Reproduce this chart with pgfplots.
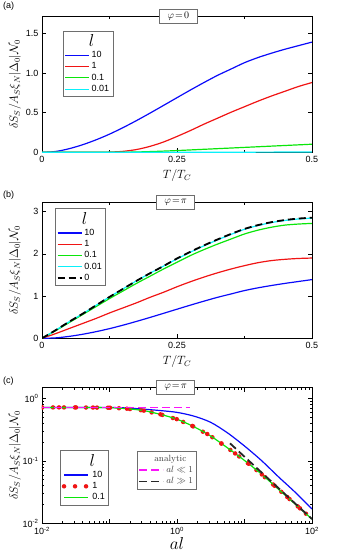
\documentclass[border=0pt]{standalone}
\usepackage{pgfplots}
\pgfplotsset{compat=1.18}
\usepackage{fontspec}
\setsansfont{Liberation Sans}
\usepackage{amsmath,amssymb}
\definecolor{cblue}{RGB}{10,10,250}
\definecolor{cred}{RGB}{240,20,20}
\definecolor{cgreen}{RGB}{10,230,10}
\definecolor{ccyan}{RGB}{10,240,250}
\definecolor{cmag}{RGB}{250,20,250}
\definecolor{boxgray}{RGB}{110,110,110}

\tikzset{
  tbox/.style={draw=boxgray, line width=0.8pt, fill=white, inner sep=1.5pt,
    minimum width=38pt, minimum height=14pt, font=\fontsize{10}{11}\selectfont},
  plabel/.style={anchor=north west, font=\sffamily\fontsize{9}{10}\selectfont, inner sep=0pt},
}
\pgfplotsset{
  panel/.style={
    scale only axis, width=270pt, height=135.6pt,
    anchor=north west, clip mode=individual,
    tick align=inside,
    major tick length=4pt, minor tick length=2pt,
    tick style={black, line width=0.6pt},
    axis line style={line width=0.8pt},
    tick label style={font=\sffamily\fontsize{9}{10}\selectfont},
    /pgf/number format/assume math mode=true,
    label style={font=\fontsize{12}{13}\selectfont},
    ylabel style={font=\fontsize{12}{13}\selectfont,
      at={(axis description cs:-0.1,0.5)}, anchor=center},
    legend style={draw=boxgray, fill=white,
      font=\sffamily\fontsize{9}{10}\selectfont,
      inner sep=1.5pt, row sep=-0.5pt, cells={anchor=west}},
    legend cell align=left,
    legend image code/.code={\draw[##1] (0pt,0pt) -- (24pt,0pt);},
  },
}

\begin{document}
\begin{tikzpicture}
\path[use as bounding box] (0,0) rectangle (338pt,-558pt);

% ---------------- (a) ----------------
\node[plabel] at (3pt,-2pt) {(a)};
\begin{axis}[panel, at={(42pt,-16.7pt)},
  xmin=0, xmax=0.5, ymin=0, ymax=1.71,
  xtick={0,0.25,0.5}, xticklabels={0,0.25,0.5},
  minor xtick={0.125,0.375},
  ytick={0,0.5,1,1.5}, yticklabels={0,0.5,1.0,1.5},
  xlabel={$T/T_C$}, ylabel={$\delta S_S/A_S\xi_N|\Delta_0|\mathcal{N}_0$},
  xlabel style={at={(axis description cs:0.5,-0.1)}, anchor=north},
  legend style={at={(0.077,0.896)}, anchor=north west},
]
\addlegendimage{empty legend}
\addlegendentry{\makebox[0pt]{\rmfamily\fontsize{16}{16}\selectfont$l$}}
\addplot[cblue, line width=1.2pt, smooth] coordinates {
 (0,0) (0.025,0.01) (0.05,0.045) (0.075,0.095) (0.1,0.157) (0.125,0.229)
 (0.15,0.311) (0.175,0.400) (0.2,0.494) (0.225,0.591) (0.25,0.689) (0.275,0.786)
 (0.3,0.88) (0.325,0.97) (0.35,1.05) (0.375,1.13) (0.4,1.195) (0.425,1.25)
 (0.45,1.30) (0.475,1.345) (0.5,1.39)};
\addlegendentry{10}
\addplot[cred, line width=1.2pt, smooth] coordinates {
 (0,0) (0.05,0) (0.1,0.0) (0.125,0.003) (0.15,0.012) (0.175,0.035)
 (0.2,0.075) (0.225,0.13) (0.25,0.20) (0.275,0.275) (0.3,0.355) (0.325,0.43)
 (0.35,0.505) (0.375,0.575) (0.4,0.645) (0.425,0.71) (0.45,0.77) (0.475,0.83)
 (0.5,0.88)};
\addlegendentry{1}
\addplot[cgreen, line width=1.2pt, smooth] coordinates {
 (0,0) (0.1,0) (0.125,0.0) (0.15,0.001) (0.175,0.004) (0.2,0.009)
 (0.225,0.015) (0.25,0.022) (0.275,0.03) (0.3,0.038) (0.325,0.046)
 (0.35,0.054) (0.375,0.062) (0.4,0.07) (0.425,0.078) (0.45,0.086)
 (0.475,0.094) (0.5,0.102)};
\addlegendentry{0.1}
\addplot[ccyan, line width=1.2pt, smooth] coordinates {
 (0,0) (0.2,0) (0.25,0.0005) (0.3,0.001) (0.35,0.0015) (0.4,0.002)
 (0.45,0.003) (0.5,0.004)};
\addlegendentry{0.01}
\node[tbox] at (rel axis cs:0.505,1) {$\varphi\!=\!0$};
\end{axis}

% ---------------- (b) ----------------
\node[plabel] at (3pt,-191pt) {(b)};
\begin{axis}[panel, at={(42pt,-202.7pt)},
  xmin=0, xmax=0.5, ymin=0, ymax=3.21,
  xtick={0,0.25,0.5}, xticklabels={0,0.25,0.5},
  minor xtick={0.125,0.375},
  ytick={0,1,2,3}, yticklabels={0,1,2,3},
  xlabel={$T/T_C$}, ylabel={$\delta S_S/A_S\xi_N|\Delta_0|\mathcal{N}_0$},
  xlabel style={at={(axis description cs:0.5,-0.1)}, anchor=north},
  legend style={at={(0.048,0.958)}, anchor=north west},
]
\addlegendimage{empty legend}
\addlegendentry{\makebox[0pt]{\rmfamily\fontsize{16}{16}\selectfont$l$}}
\addplot[cblue, line width=1.2pt, smooth] coordinates {
 (0,0) (0.025,0.01) (0.05,0.045) (0.075,0.095) (0.1,0.157) (0.125,0.229)
 (0.15,0.311) (0.175,0.400) (0.2,0.494) (0.225,0.591) (0.25,0.689) (0.275,0.786)
 (0.3,0.88) (0.325,0.97) (0.35,1.05) (0.375,1.13) (0.4,1.195) (0.425,1.25)
 (0.45,1.30) (0.475,1.345) (0.5,1.39)};
\addlegendentry{10}
\addplot[cred, line width=1.2pt, smooth] coordinates {
 (0,0) (0.025,0.11) (0.05,0.23) (0.075,0.35) (0.1,0.47) (0.125,0.60)
 (0.15,0.72) (0.175,0.84) (0.2,0.97) (0.225,1.09) (0.25,1.22) (0.275,1.34)
 (0.3,1.45) (0.325,1.55) (0.35,1.64) (0.375,1.72) (0.4,1.79) (0.425,1.84)
 (0.45,1.87) (0.475,1.89) (0.5,1.90)};
\addlegendentry{1}
\addplot[cgreen, line width=1.2pt, smooth] coordinates {
 (0,0) (0.025,0.18) (0.05,0.37) (0.075,0.56) (0.1,0.75) (0.125,0.94)
 (0.15,1.12) (0.175,1.30) (0.2,1.47) (0.225,1.64) (0.25,1.80) (0.275,1.96)
 (0.3,2.10) (0.325,2.23) (0.35,2.35) (0.375,2.47) (0.4,2.56) (0.425,2.63)
 (0.45,2.68) (0.475,2.705) (0.5,2.72)};
\addlegendentry{0.1}
\addplot[ccyan, line width=1.2pt, smooth] coordinates {
 (0,0) (0.025,0.19) (0.05,0.39) (0.075,0.58) (0.1,0.78) (0.125,0.98)
 (0.15,1.17) (0.175,1.36) (0.2,1.54) (0.225,1.71) (0.25,1.88) (0.275,2.04)
 (0.3,2.19) (0.325,2.33) (0.35,2.46) (0.375,2.58) (0.4,2.67) (0.425,2.74)
 (0.45,2.79) (0.475,2.825) (0.5,2.845)};
\addlegendentry{0.01}
\addplot[black, line width=1.8pt, dash pattern=on 7pt off 4pt, smooth] coordinates {
 (0,0) (0.025,0.19) (0.05,0.39) (0.075,0.58) (0.1,0.78) (0.125,0.98)
 (0.15,1.17) (0.175,1.36) (0.2,1.54) (0.225,1.71) (0.25,1.89) (0.275,2.05)
 (0.3,2.20) (0.325,2.34) (0.35,2.47) (0.375,2.59) (0.4,2.68) (0.425,2.75)
 (0.45,2.80) (0.475,2.835) (0.5,2.855)};
\addlegendentry{0}
\node[tbox] at (rel axis cs:0.495,1) {$\varphi\!=\!\pi$};
\end{axis}

% ---------------- (c) ----------------
\node[plabel] at (3pt,-377pt) {(c)};
\begin{axis}[panel, at={(42pt,-387.7pt)},
  xmode=log, ymode=log,
  xmin=0.01, xmax=100, ymin=0.01, ymax=1.5,
  xtick={0.01,0.1,1,10,100},
  xticklabels={10\textsuperscript{-2},,10\textsuperscript{0},,10\textsuperscript{2}},
  ytick={0.01,0.1,1},
  yticklabels={10\textsuperscript{-2},10\textsuperscript{-1},10\textsuperscript{0}},
  xlabel={$al$}, ylabel={$\delta S_S/A_S\xi_N|\Delta_0|\mathcal{N}_0$},
  xlabel style={font=\fontsize{17}{18}\selectfont, at={(axis description cs:0.5,-0.08)}, anchor=north},
  legend style={at={(0.067,0.537)}, anchor=north west},
]
\addlegendimage{empty legend}
\addlegendentry{\makebox[0pt]{\rmfamily\fontsize{16}{16}\selectfont$l$}}
\addplot[cblue, line width=1.2pt, smooth] coordinates {
 (0.01,0.724) (0.0316,0.724) (0.1,0.722) (0.178,0.71) (0.316,0.68)
 (0.562,0.645) (1,0.603) (1.78,0.525) (3.16,0.417) (5.62,0.282)
 (10,0.174) (17.8,0.102) (31.6,0.0562) (56.2,0.0316) (100,0.0170)};
\addlegendentry{10}
\addplot[cred, line width=4.5pt, dash pattern=on 0pt off 11pt, line cap=round] coordinates {
 (0.01,0.724) (0.0316,0.724) (0.1,0.716) (0.178,0.692) (0.316,0.646)
 (0.562,0.562) (1,0.468) (1.78,0.355) (3.16,0.251) (5.62,0.162)
 (10,0.102) (17.8,0.0617) (31.6,0.0355) (56.2,0.0204) (100,0.0117)};
\addlegendentry{1}
\addplot[cgreen, line width=1.2pt, smooth] coordinates {
 (0.01,0.724) (0.0316,0.724) (0.1,0.716) (0.178,0.692) (0.316,0.646)
 (0.562,0.562) (1,0.468) (1.78,0.355) (3.16,0.251) (5.62,0.162)
 (10,0.102) (17.8,0.0617) (31.6,0.0355) (56.2,0.0204) (100,0.0117)};
\addlegendentry{0.1}
\addplot[cred, line width=4.5pt, dash pattern=on 0pt off 17pt, line cap=round, smooth, forget plot] coordinates {
 (0.01,0.724) (0.0316,0.724) (0.1,0.716) (0.178,0.692) (0.316,0.646)
 (0.562,0.562) (1,0.468) (1.78,0.355) (3.16,0.251) (5.62,0.162)
 (10,0.102) (17.8,0.0617) (31.6,0.0355) (56.2,0.0204) (100,0.0117)};
\node[tbox] at (rel axis cs:0.495,1) {$\varphi\!=\!\pi$};
\end{axis}
\begin{axis}[panel, at={(42pt,-387.7pt)}, hide axis,
  xmode=log, ymode=log,
  xmin=0.01, xmax=100, ymin=0.01, ymax=1.5,
  legend style={at={(0.351,0.53)}, anchor=north west,
    font=\rmfamily\fontsize{9}{10}\selectfont, text=black!75},
]
\addlegendimage{empty legend}
\addlegendentry{\hspace*{-12pt}analytic}
\addplot[cmag, line width=1.6pt, dash pattern=on 8pt off 4pt] coordinates {
 (0.01,0.724) (1.56,0.724)};
\addlegendentry{$al\ll 1$}
\addplot[black!85, line width=1.8pt, dash pattern=on 8pt off 4pt] coordinates {
 (6.1,0.192) (100,0.0117)};
\addlegendentry{$al\gg 1$}
\end{axis}
\end{tikzpicture}
\end{document}
